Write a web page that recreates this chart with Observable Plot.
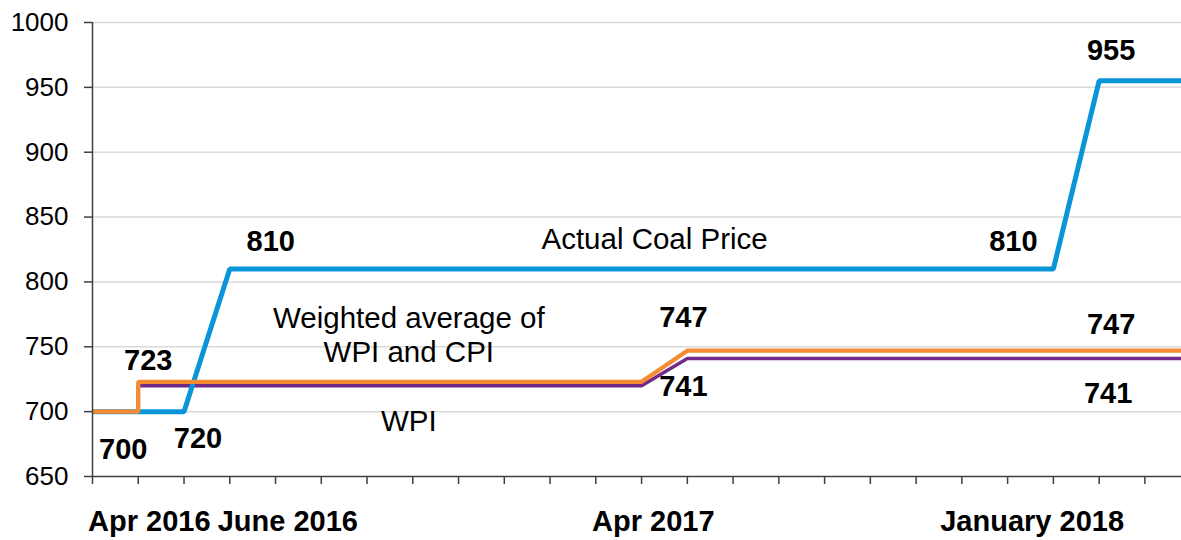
<!DOCTYPE html>
<html><head><meta charset="utf-8">
<script src="https://cdn.jsdelivr.net/npm/d3@7"></script>
<script src="https://cdn.jsdelivr.net/npm/@observablehq/plot@0.6"></script>
<style>html,body{margin:0;padding:0;background:#fff;} svg{display:block}</style>
</head><body><div id="chart"></div>
<script>
// Month categories (x positions are month indexes)
const months = ["Mar 2016","Apr 2016","May 2016","Jun 2016","Jul 2016","Aug 2016","Sep 2016","Oct 2016","Nov 2016","Dec 2016",
  "Jan 2017","Feb 2017","Mar 2017","Apr 2017","May 2017","Jun 2017","Jul 2017","Aug 2017","Sep 2017","Oct 2017","Nov 2017","Dec 2017",
  "Jan 2018","Feb 2018","Mar 2018"];

// Series breakpoints
const coalMonths = ["Mar 2016","May 2016","Jun 2016","Dec 2017","Jan 2018","Mar 2018"];
const coalValues = [700, 700, 810, 810, 955, 955];
const weightedMonths = ["Mar 2016","Apr 2016","Apr 2016","Mar 2017","Apr 2017","Mar 2018"];
const weightedValues = [700, 700, 723, 723, 747, 747];
const wpiMonths = ["Mar 2016","Apr 2016","Apr 2016","Mar 2017","Apr 2017","Mar 2018"];
const wpiValues = [700, 700, 720, 720, 741, 741];

// Axis labels
const yTicks = [650, 700, 750, 800, 850, 900, 950, 1000];
const xLabelMonths = ["Apr 2016","Jun 2016","Apr 2017","Jan 2018"];
const xLabels = ["Apr 2016","June 2016","Apr 2017","January 2018"];

// Value annotations (anchored to data points)
const valueLabelMonths = ["Apr 2016","May 2016","Apr 2016","Jun 2016","Dec 2017","Jan 2018","Apr 2017","Apr 2017","Jan 2018","Jan 2018"];
const valueLabelValues = [700, 700, 723, 810, 810, 955, 747, 741, 747, 741];
const valueLabelTexts = ["700","720","723","810","810","955","747","741","747","741"];

// Series name annotations
const seriesNames = ["Actual Coal Price", "Weighted average of\nWPI and CPI", "WPI"];
const seriesNameMonths = ["Mar 2017", "Oct 2016", "Oct 2016"];
const seriesNameValues = [810, 723, 720];

const idx = m => months.indexOf(m);
const toRows = (ms, vs) => ms.map((m, i) => ({x: idx(m), y: vs[i]}));
const coal = toRows(coalMonths, coalValues);
const weighted = toRows(weightedMonths, weightedValues);
const wpi = toRows(wpiMonths, wpiValues);

const valueOffsets = [[-15, 38], [14, 27], [10, -21], [41, -27], [-40, -27], [12, -30], [-4, -33], [-4, 28], [12, -26], [9, 35]];
const nameOffsets = [[13, -31], [-4, -48], [-4, 34]];

const valueMarks = valueLabelTexts.map((t, i) => Plot.text([{x: idx(valueLabelMonths[i]), y: valueLabelValues[i]}], {
  x: "x", y: "y", text: () => t, dx: valueOffsets[i][0], dy: valueOffsets[i][1],
  fontSize: 29, fontWeight: "bold", fill: "#000"
}));
const nameMarks = seriesNames.map((t, i) => Plot.text([{x: idx(seriesNameMonths[i]), y: seriesNameValues[i]}], {
  x: "x", y: "y", text: () => t, dx: nameOffsets[i][0], dy: nameOffsets[i][1],
  fontSize: 29.5, fill: "#000", lineHeight: 1.18
}));
const labelDx = [11, 58, -34, -67];
const xLabelAxes = xLabels.map((l, i) => Plot.axisX([idx(xLabelMonths[i])], {
  tickSize: 0, tickPadding: 34, tickFormat: () => l, dx: labelDx[i], label: null,
  fontSize: 29, fontWeight: "bold", fill: "#000"
}));

const chart = Plot.plot({
  width: 1181, height: 540,
  marginLeft: 92, marginRight: 0, marginTop: 22, marginBottom: 64,
  style: {fontFamily: "'Liberation Sans', Arial, sans-serif", background: "#fff", overflow: "visible"},
  x: {domain: [0, 23.8], label: null},
  y: {domain: [650, 1000], label: null},
  marks: [
    Plot.gridY(yTicks.filter(v => v > 650), {stroke: "#d9d9d9", strokeOpacity: 1, strokeWidth: 1.5}),
    Plot.line(wpi, {x: "x", y: "y", stroke: "#722a88", strokeWidth: 3.5, clip: true, strokeLinejoin: "miter"}),
    Plot.line(coal, {x: "x", y: "y", stroke: "#0a95d9", strokeWidth: 5, clip: true, strokeLinejoin: "miter"}),
    Plot.line(weighted, {x: "x", y: "y", stroke: "#f58b32", strokeWidth: 4.3, clip: true, strokeLinejoin: "miter"}),
    Plot.ruleY([650], {stroke: "#404040", strokeWidth: 1.5}),
    Plot.ruleX([0], {stroke: "#404040", strokeWidth: 1.5}),
    Plot.axisY(yTicks, {tickSize: 8, tickPadding: 16, fontSize: 26, stroke: "#404040", fill: "#000", strokeWidth: 1.5, tickFormat: d => String(d), label: null}),
    Plot.axisX(d3.range(0, 24), {tickSize: 8, tickFormat: () => "", stroke: "#404040", strokeWidth: 1.5, label: null}),
    ...xLabelAxes,
    ...valueMarks,
    ...nameMarks
  ]
});
document.getElementById("chart").appendChild(chart);
</script>
</body></html>
